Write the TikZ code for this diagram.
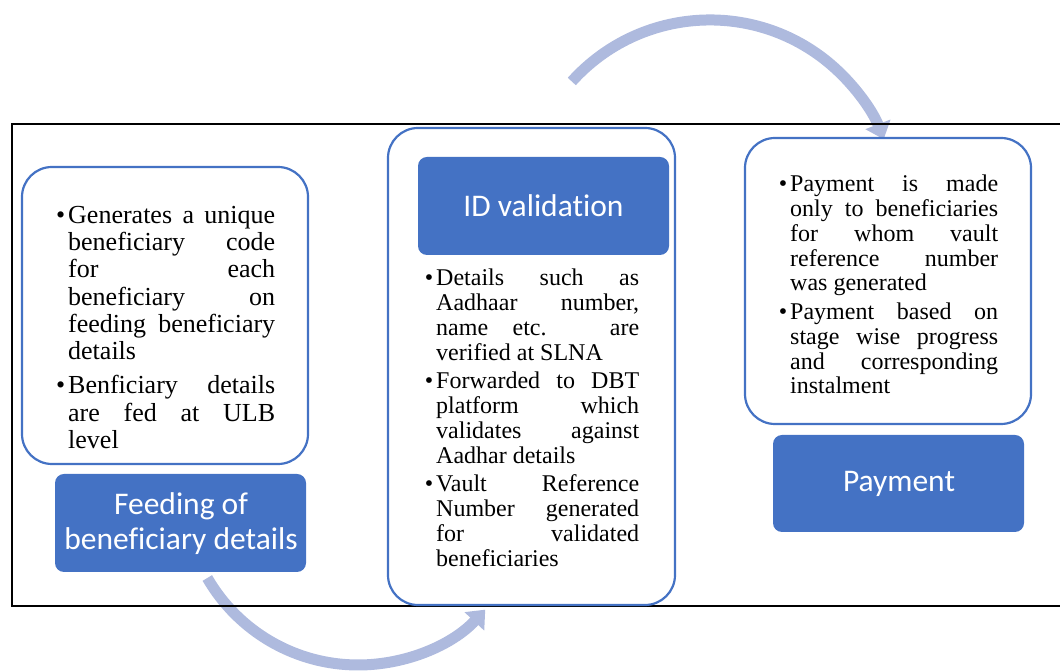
\documentclass[tikz,border=0pt]{standalone}
\usepackage{fontspec}
\setmainfont{Liberation Serif}
\newfontfamily\carlito[Ligatures=NoCommon]{Carlito}
\usetikzlibrary{arrows.meta}
\definecolor{accblue}{HTML}{4472C4}
\definecolor{arrblue}{HTML}{AEBADE}
\newlength\colw
\newcommand\JL[1]{\makebox[\colw][s]{#1}\par}
\newcommand\EL[1]{#1\par}
\newcommand\BUL{\leavevmode\llap{•\hspace{3pt}}}
\tikzset{
  whitebox/.style={draw=accblue, line width=2.2pt, fill=white, rounded corners=30pt, inner sep=0pt},
  bluebox/.style={fill=accblue, rounded corners=9pt, inner sep=0pt},
  bluetext/.style={text=white, inner sep=0pt, font=\carlito\fontsize{31.5}{34.5}\selectfont},
  bodytext/.style={inner sep=0pt, anchor=base west},
  curvarrow/.style={draw=arrblue, line width=11pt, -{Triangle[width=26pt,length=16pt]}},
  framestyle/.style={draw=black, line width=1.6pt}
}
\begin{document}
\begin{tikzpicture}[x=1pt,y=1pt]
\useasboundingbox (0,0) rectangle (1060,671);
% curved arrows
\coordinate (a1s) at (571.8,589.5);
\coordinate (a2s) at (207.3,93);
\draw[curvarrow] (a1s) arc[start angle=138, end angle=21, radius=186];
\draw[curvarrow] (a2s) arc[start angle=210, end angle=317, radius=174];
% frame (right side runs off the page)
\draw[framestyle] (1060,547) -- (12,547) -- (12,65) -- (1060,65);
% boxes
\node[whitebox, minimum width=286pt, minimum height=297pt] (b1) at (165,355.5) {};
\node[bluebox, minimum width=251pt, minimum height=98pt] (h1) at (180.5,148) {};
\node[whitebox, minimum width=287pt, minimum height=477pt] (b2) at (531.5,304.5) {};
\node[bluebox, minimum width=251pt, minimum height=98pt] (h2) at (543.5,465) {};
\node[whitebox, minimum width=286pt, minimum height=286pt] (b3) at (888,390) {};
\node[bluebox, minimum width=251pt, minimum height=97pt] (h3) at (898.5,187.5) {};
% heading texts
\node[bluetext, anchor=base] (t1) at (181,156) {\parbox[t]{300pt}{\centering Feeding of\\beneficiary details}};
\node[bluetext, anchor=base] (t2) at (543.5,454.3) {ID validation};
\node[bluetext, anchor=base] (t3) at (899,179.3) {Payment};
% body texts
\node[bodytext] (p1) at (68,447.7) {\setlength\colw{207pt}\parbox[t]{\colw}{\fontsize{26}{27.3}\selectfont
\BUL\JL{Generates a unique}
\JL{beneficiary code}
\JL{for each}
\JL{beneficiary on}
\JL{feeding beneficiary}
\EL{details}
\vspace{6.7pt}
\BUL\JL{Benficiary details}
\JL{are fed at ULB}
\EL{level}}};
\node[bodytext] (p2) at (436,385.3) {\setlength\colw{203pt}\parbox[t]{\colw}{\fontsize{24}{24.8}\selectfont
\BUL\JL{Details such as}
\JL{Aadhaar number,}
\JL{name etc. are}
\EL{verified at SLNA}
\vspace{3.8pt}
\BUL\JL{Forwarded to DBT}
\JL{platform which}
\JL{validates against}
\EL{Aadhar details}
\vspace{3.8pt}
\BUL\JL{Vault Reference}
\JL{Number generated}
\JL{for validated}
\EL{beneficiaries}}};
\node[bodytext] (p3) at (790,479.3) {\setlength\colw{208pt}\parbox[t]{\colw}{\fontsize{24}{24.8}\selectfont
\BUL\JL{Payment is made}
\JL{only to beneficiaries}
\JL{for whom vault}
\JL{reference number}
\EL{was generated}
\vspace{3.8pt}
\BUL\JL{Payment based on}
\JL{stage wise progress}
\JL{and corresponding}
\EL{instalment}}};
\end{tikzpicture}
\end{document}
